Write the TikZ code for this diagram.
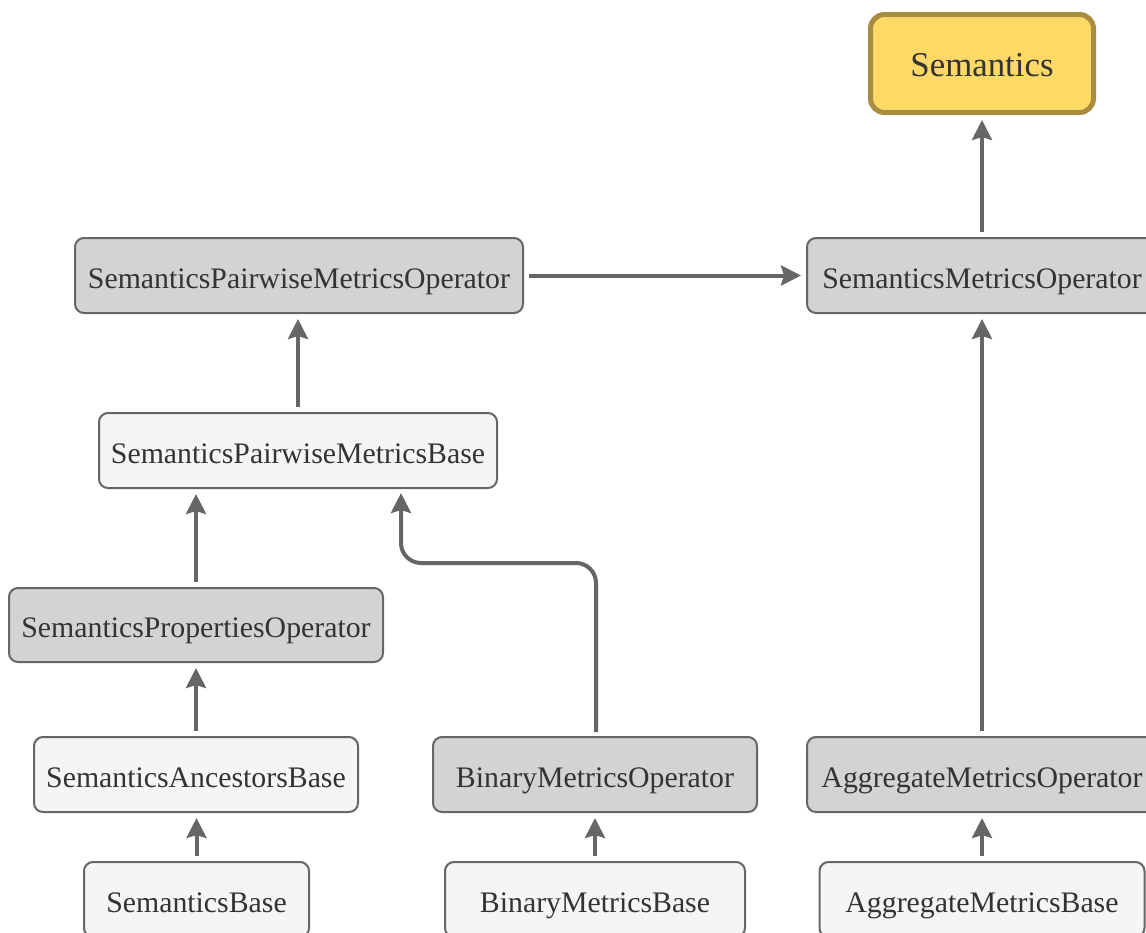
\documentclass[tikz,border=0pt]{standalone}
\usepackage{fontspec}
\setmainfont{Liberation Serif}
\usetikzlibrary{arrows.meta}
\definecolor{boxline}{HTML}{666666}
\definecolor{darkfill}{HTML}{D3D3D3}
\definecolor{lightfill}{HTML}{F5F5F5}
\definecolor{txt}{HTML}{333333}
\definecolor{goldfill}{HTML}{FFD966}
\definecolor{goldline}{HTML}{A88C3F}
\definecolor{arrowc}{HTML}{666666}
\tikzset{
  box/.style={draw=boxline, line width=2pt, rounded corners=9pt, text=txt,
    font=\fontsize{29.8}{34}\selectfont, minimum height=75pt, inner sep=0pt,
    text height=28pt, text depth=3pt},
  opbox/.style={box, fill=darkfill},
  basebox/.style={box, fill=lightfill},
  topbox/.style={draw=goldline, line width=5pt, fill=goldfill, rounded corners=14pt,
    text=txt, font=\fontsize{34.8}{40}\selectfont, minimum width=223pt, minimum height=98pt, inner sep=0pt,
    text height=32pt, text depth=7pt},
  link/.style={draw=arrowc, line width=4pt, shorten >=5pt, shorten <=5pt,
    -{Stealth[length=20pt,width=20pt,inset=3pt]}},
}
\begin{document}
\begin{tikzpicture}[x=1pt,y=-1pt]
\useasboundingbox (0,0) rectangle (1146,932);
\clip (0,0) rectangle (1146,932);
\node[topbox] (sem) at (982,63.5) {Semantics};
\node[opbox, minimum width=448pt] (spmo) at (299,275.5) {SemanticsPairwiseMetricsOperator};
\node[opbox, minimum width=350pt] (smo) at (982,275.5) {SemanticsMetricsOperator};
\node[basebox, minimum width=398pt] (spmb) at (298,450.5) {SemanticsPairwiseMetricsBase};
\node[opbox, minimum width=374pt, minimum height=74pt] (spo) at (196,625) {SemanticsPropertiesOperator};
\node[basebox, minimum width=324pt] (sab) at (196,774.5) {SemanticsAncestorsBase};
\node[opbox, minimum width=324pt] (bmo) at (595,774.5) {BinaryMetricsOperator};
\node[opbox, minimum width=350pt] (amo) at (982,774.5) {AggregateMetricsOperator};
\node[basebox, minimum width=225pt] (sb) at (196.5,899.5) {SemanticsBase};
\node[basebox, minimum width=300pt] (bmb) at (595,899.5) {BinaryMetricsBase};
\node[basebox, minimum width=325pt] (amb) at (982,899.5) {AggregateMetricsBase};

\coordinate (elbowstart) at (596,737);
\coordinate (elbowend) at (401,488);

\draw[link] (smo.north) -- (sem.south);
\draw[link] (spmo.east) -- (smo.west);
\draw[link] (spmb.north) -- (spmo.south -| spmb.north);
\draw[link] (spo.north) -- (spmb.south -| spo.north);
\draw[link] (sab.north) -- (spo.south);
\draw[link] (sb.north) -- (sab.south -| sb.north);
\draw[link, rounded corners=20pt] (elbowstart) -- (596,563) -- (401,563) -- (elbowend);
\draw[link] (bmb.north) -- (bmo.south);
\draw[link] (amo.north) -- (smo.south);
\draw[link] (amb.north) -- (amo.south);
\end{tikzpicture}
\end{document}
